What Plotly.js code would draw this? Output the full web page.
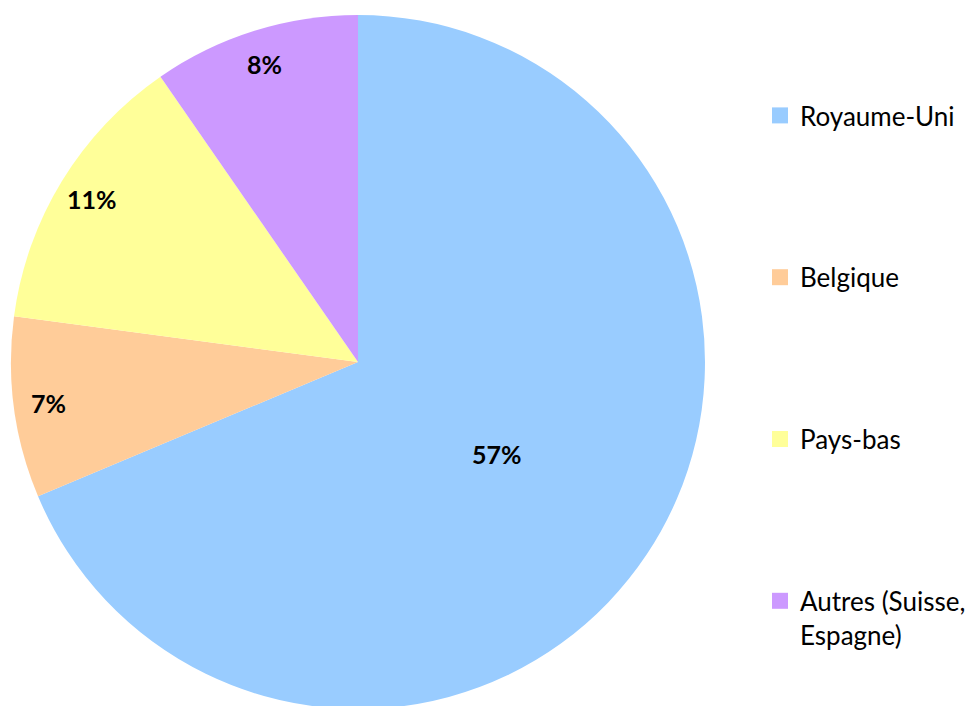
<!DOCTYPE html>
<html><head><meta charset="utf-8">
<script src="https://cdn.plot.ly/plotly-3.0.1.min.js"></script>
<style>html,body{margin:0;padding:0;overflow:hidden;background:#fff}</style>
</head><body>
<div id="chart" style="width:978px;height:712px"></div>
<script>
const labels = ["Royaume-Uni", "Belgique", "Pays-bas", "Autres (Suisse,<br>Espagne)"];
const values = [57, 7, 11, 8];
const colors = ["#99CCFF", "#FFCC99", "#FFFF99", "#CC99FF"];
const valueLabels = values.map(v => v + "%");

const W = 978, H = 712;
// pie domain in pixels
const PX0 = 11, PX1 = 705, PY0 = 15, PY1 = 709;
const cx = (PX0 + PX1) / 2, cy = (PY0 + PY1) / 2, R = Math.min(PX1 - PX0, PY1 - PY0) / 2;

const pie = {
  type: "pie",
  labels: labels,
  values: values,
  textinfo: "none",
  hoverinfo: "label+value",
  sort: false,
  direction: "clockwise",
  rotation: 0,
  marker: {colors: colors, line: {width: 0}},
  showlegend: false,
  domain: {x: [PX0 / W, PX1 / W], y: [1 - PY1 / H, 1 - PY0 / H]}
};

// data labels placed at mid-angle of each slice (small slices near the rim)
const total = values.reduce((a, b) => a + b, 0);
let cum = 0;
const annotations = values.map((v, i) => {
  const mid = (cum + v / 2) / total * 2 * Math.PI;
  cum += v;
  const frac = v / total < 0.2 ? 0.9 : 0.48;
  const px = cx + Math.sin(mid) * R * frac;
  const py = cy - Math.cos(mid) * R * frac;
  return {
    xref: "paper", yref: "paper", x: px / W, y: 1 - py / H,
    xanchor: "center", yanchor: "middle", showarrow: false,
    text: "<b>" + valueLabels[i] + "</b>",
    font: {family: "Lato, 'Open Sans', sans-serif", size: 25, color: "#000"}
  };
});

const legendTraces = labels.map((l, i) => ({
  type: "scatter", mode: "markers",
  x: [null], y: [null],
  name: l, legendgroup: "g" + i,
  marker: {symbol: "square", size: 16, color: colors[i]},
  hoverinfo: "skip"
}));

const layout = {
  width: W, height: H,
  margin: {l: 0, r: 0, t: 0, b: 0},
  paper_bgcolor: "#fff", plot_bgcolor: "#fff",
  xaxis: {visible: false}, yaxis: {visible: false},
  showlegend: true,
  annotations: annotations,
  legend: {
    x: 760 / W, xanchor: "left",
    y: 1 - 92 / H, yanchor: "top",
    tracegroupgap: 125,
    valign: "top",
    font: {family: "Lato, 'Open Sans', sans-serif", size: 26, color: "#000"},
    bgcolor: "rgba(0,0,0,0)"
  }
};

Plotly.newPlot("chart", [pie].concat(legendTraces), layout, {staticPlot: true});
</script>
</body></html>
